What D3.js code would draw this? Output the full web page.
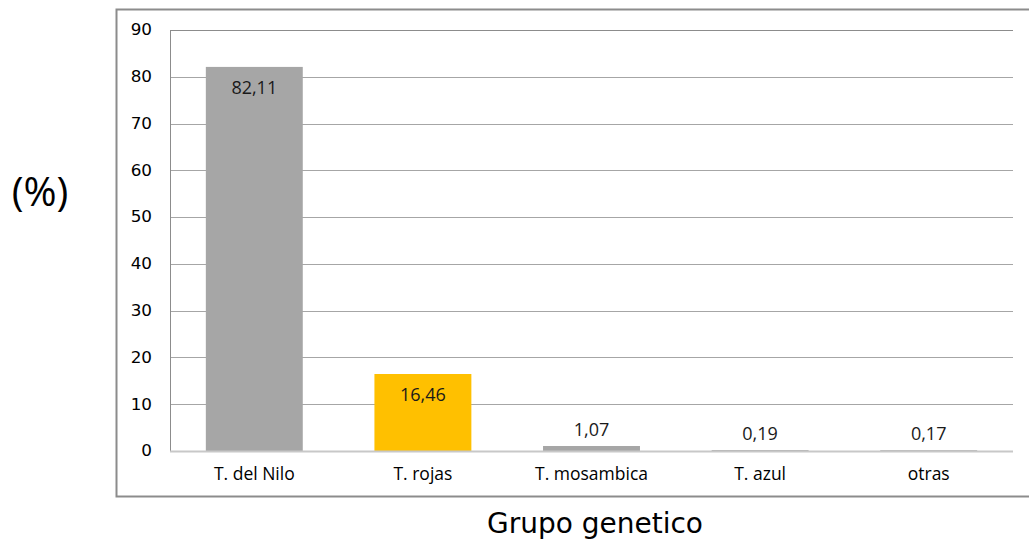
<!DOCTYPE html>
<html>
<head>
<meta charset="utf-8">
<script src="https://cdn.jsdelivr.net/npm/d3@7"></script>
<style>
  html, body { margin: 0; padding: 0; background: #fff; }
  svg { display: block; }
</style>
</head>
<body>
<svg id="chart" width="1029" height="543"></svg>
<script>
// Genetic group shares (%)
const categories = ["T. del Nilo", "T. rojas", "T. mosambica", "T. azul", "otras"];
const values = [82.11, 16.46, 1.07, 0.19, 0.17];
const barColors = ["#a6a6a6", "#ffc000", "#a6a6a6", "#a6a6a6", "#a6a6a6"];
const yTicks = [0, 10, 20, 30, 40, 50, 60, 70, 80, 90];

const svg = d3.select("#chart");
const plot = { left: 170, right: 1013, top: 30, bottom: 451 };

// outer chart frame
svg.append("rect")
  .attr("x", 116.5).attr("y", 9.5)
  .attr("width", 1040).attr("height", 487)
  .attr("fill", "none").attr("stroke", "#8c8c8c").attr("stroke-width", 2);

const x = d3.scaleBand()
  .domain(categories)
  .range([plot.left, plot.right])
  .paddingInner(0.425).paddingOuter(0.2125);

const y = d3.scaleLinear().domain([0, 90]).range([plot.bottom, plot.top]);

// gridlines
svg.append("g")
  .selectAll("line")
  .data(yTicks.filter(d => d > 0))
  .join("line")
  .attr("x1", plot.left).attr("x2", plot.right)
  .attr("y1", d => Math.round(y(d)) + 0.5).attr("y2", d => Math.round(y(d)) + 0.5)
  .attr("stroke", d => d === 90 ? "#8c8c8c" : "#a6a6a6")
  .attr("stroke-width", 1);

// left plot edge
svg.append("line")
  .attr("x1", plot.left + 0.5).attr("x2", plot.left + 0.5)
  .attr("y1", plot.top).attr("y2", plot.bottom)
  .attr("stroke", "#8c8c8c");

// y tick labels (slightly widened glyphs)
const yAxis = d3.axisLeft(y).tickValues(yTicks).tickSize(0).tickPadding(0);
const gy = svg.append("g").attr("transform", `translate(${152},0)`).call(yAxis);
gy.select(".domain").remove();
gy.selectAll("text")
  .attr("font-family", "'DejaVu Sans', Verdana, sans-serif")
  .attr("font-size", 15).attr("fill", "#000")
  .attr("transform", "scale(1.12,1)")
  .attr("x", 0);

// bars
svg.append("g")
  .selectAll("rect")
  .data(values)
  .join("rect")
  .attr("x", (d, i) => x(categories[i]))
  .attr("width", x.bandwidth())
  .attr("y", d => y(d))
  .attr("height", d => y(0) - y(d))
  .attr("fill", (d, i) => barColors[i]);

// zero axis line
svg.append("line")
  .attr("x1", plot.left).attr("x2", plot.right)
  .attr("y1", y(0) + 0.5).attr("y2", y(0) + 0.5)
  .attr("stroke", "#c8c8c8").attr("stroke-width", 2);

// value labels: inside end for tall bars, above for small bars
const fmt = v => d3.format(".2f")(v).replace(".", ",");
svg.append("g")
  .selectAll("text")
  .data(values)
  .join("text")
  .attr("x", (d, i) => x(categories[i]) + x.bandwidth() / 2)
  .attr("y", d => d > 5 ? y(d) + 27 : y(d) - 10)
  .attr("text-anchor", "middle")
  .attr("font-family", "'Open Sans', sans-serif")
  .attr("font-size", 18).attr("fill", "#1a1a1a")
  .text(fmt);

// x tick labels
const xAxis = d3.axisBottom(x).tickSize(0).tickPadding(0);
const gx = svg.append("g").attr("transform", `translate(0,${plot.bottom + 29})`).call(xAxis);
gx.select(".domain").remove();
gx.selectAll("text")
  .attr("dy", 0)
  .attr("font-family", "'Open Sans', sans-serif")
  .attr("font-size", 17.5).attr("fill", "#000");

// axis titles
svg.append("text")
  .attr("x", 40).attr("y", 206)
  .attr("text-anchor", "middle")
  .attr("font-family", "'Open Sans', sans-serif")
  .attr("font-size", 40).attr("fill", "#000")
  .text("(%)");

svg.append("text")
  .attr("x", 595).attr("y", 533)
  .attr("text-anchor", "middle")
  .attr("font-family", "'DejaVu Sans', Verdana, sans-serif")
  .attr("font-size", 28).attr("fill", "#000")
  .text("Grupo genetico");
</script>
</body>
</html>
